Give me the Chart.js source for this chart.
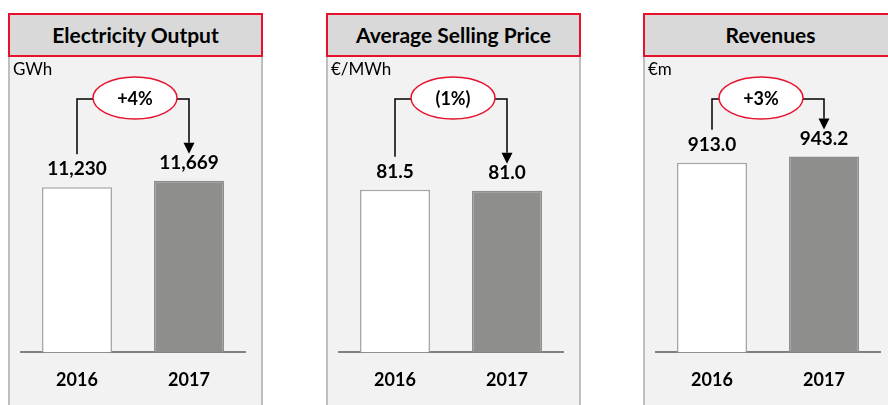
<!DOCTYPE html>
<html>
<head>
<meta charset="utf-8">
<script src="https://cdn.jsdelivr.net/npm/chart.js@4.4.0/dist/chart.umd.min.js"></script>
<style>
  html, body { margin: 0; padding: 0; background: #fff; }
  body { width: 888px; height: 405px; position: relative; overflow: hidden; font-family: Lato, "Open Sans", sans-serif; }
  .panel { position: absolute; top: 13px; width: 255px; height: 400px; }
  .panel .title {
    position: absolute; left: 0; top: 0; width: 255px; height: 44px; box-sizing: border-box;
    border: 2px solid #e8112d; background: #d9d9d9; z-index: 2;
    font-weight: bold; font-size: 21px; line-height: 40px; text-align: center; color: #000;
  }
  .panel .body {
    position: absolute; left: 0; top: 44px; width: 255px; height: 360px; box-sizing: border-box;
    border-left: 2px solid #bfbfbf; border-right: 2px solid #bfbfbf; background: #f2f2f2;
  }
  .panel .unit { position: absolute; left: 5px; top: 45px; font-size: 17px; color: #000; z-index: 2; }
  .panel canvas { position: absolute; left: 0; top: 44px; }
</style>
</head>
<body>
  <div class="panel" style="left:8px">
    <div class="title">Electricity Output</div>
    <div class="body"></div>
    <div class="unit">GWh</div>
    <canvas id="outputChart" width="255" height="366"></canvas>
  </div>
  <div class="panel" style="left:326px">
    <div class="title">Average Selling Price</div>
    <div class="body"></div>
    <div class="unit">€/MWh</div>
    <canvas id="priceChart" width="255" height="366"></canvas>
  </div>
  <div class="panel" style="left:643px">
    <div class="title">Revenues</div>
    <div class="body"></div>
    <div class="unit">€m</div>
    <canvas id="revenueChart" width="255" height="366"></canvas>
  </div>

<script>
  const years = ['2016', '2017'];
  const outputGWh = [11230, 11669];
  const priceEurMWh = [81.5, 81.0];
  const revenuesEurM = [913.0, 943.2];
  const changeLabels = ['+4%', '(1%)', '+3%'];

  // value labels over the bars plus the change bubble with its connectors
  const bubblePlugin = {
    id: 'bubble',
    afterDatasetsDraw(chart, args, opts) {
      const ctx = chart.ctx;
      const bars = chart.getDatasetMeta(0).data;
      const values = chart.data.datasets[0].data;
      const labelGap = 18;
      const tops = [];

      ctx.save();
      ctx.fillStyle = '#000';
      ctx.font = 'bold 19px Lato, sans-serif';
      ctx.textAlign = 'center';
      ctx.textBaseline = 'middle';
      bars.forEach((bar, i) => {
        const cy = bar.y - labelGap;
        ctx.fillText(opts.format(values[i]), bar.x, cy);
        tops.push(cy - 8);
      });

      const b0 = bars[0], b1 = bars[1];
      const cx = (b0.x + b1.x) / 2 + (opts.shift || 0);
      const cy = 41;
      const rx = 42, ry = 21;

      ctx.strokeStyle = '#000';
      ctx.lineWidth = 1.5;
      ctx.beginPath();
      ctx.moveTo(b0.x, tops[0] - 7);
      ctx.lineTo(b0.x, cy + 1);
      ctx.lineTo(cx - rx, cy + 1);
      ctx.moveTo(cx + rx, cy + 1);
      ctx.lineTo(b1.x, cy + 1);
      ctx.lineTo(b1.x, tops[1] - 12);
      ctx.stroke();

      ctx.fillStyle = '#000';
      ctx.beginPath();
      ctx.moveTo(b1.x - 5.5, tops[1] - 12);
      ctx.lineTo(b1.x + 5.5, tops[1] - 12);
      ctx.lineTo(b1.x, tops[1] - 1);
      ctx.closePath();
      ctx.fill();

      ctx.beginPath();
      ctx.ellipse(cx, cy, rx, ry, 0, 0, Math.PI * 2);
      ctx.fillStyle = '#fff';
      ctx.fill();
      ctx.strokeStyle = '#e8112d';
      ctx.lineWidth = 1.5;
      ctx.stroke();

      ctx.fillStyle = '#000';
      ctx.font = 'bold 18px Lato, sans-serif';
      ctx.fillText(opts.text, cx, cy + 1);
      ctx.restore();
    }
  };

  function createPanelChart(id, values, yMax, change, format, shift) {
    const ctx = document.getElementById(id).getContext('2d');
    return new Chart(ctx, {
      type: 'bar',
      data: {
        labels: years,
        datasets: [{
          data: values,
          backgroundColor: ['#ffffff', '#8e8e8d'],
          borderColor: ['#a6a6a6', '#8e8e8d'],
          borderWidth: 1.5,
          borderSkipped: 'bottom',
          categoryPercentage: 1,
          barPercentage: 0.625
        }]
      },
      options: {
        responsive: false,
        animation: false,
        layout: {
          padding: { left: 13, right: 18, top: 66, bottom: 15 }
        },
        plugins: {
          legend: { display: false },
          tooltip: { enabled: false },
          bubble: { text: change, format: format, shift: shift }
        },
        scales: {
          x: {
            grid: { display: false, drawTicks: false },
            border: { display: true, color: '#808080', width: 2 },
            ticks: {
              color: '#000',
              padding: 17,
              font: { family: 'Lato', weight: 'bold', size: 18 }
            }
          },
          y: {
            display: false,
            min: 0,
            max: yMax
          }
        }
      },
      plugins: [bubblePlugin]
    });
  }

  document.addEventListener('DOMContentLoaded', function() {
    createPanelChart('outputChart', outputGWh, 15600, changeLabels[0],
      v => v.toLocaleString('en-US'), 2);
    createPanelChart('priceChart', priceEurMWh, 115, changeLabels[1],
      v => v.toFixed(1), 2);
    createPanelChart('revenueChart', revenuesEurM, 1105, changeLabels[2],
      v => v.toFixed(1), -7);
  });
</script>
</body>
</html>
